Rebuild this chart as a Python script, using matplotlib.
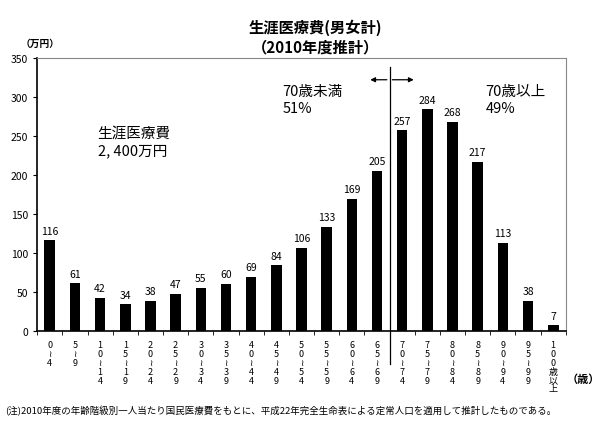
"""Lifetime medical cost by age group (2010 estimate)."""

import matplotlib
matplotlib.use("Agg")
import matplotlib.pyplot as plt
import numpy as np

plt.rcParams["font.family"] = ["Noto Sans CJK JP", "DejaVu Sans"]

ages = ["0-4", "5-9", "10-14", "15-19", "20-24", "25-29", "30-34", "35-39",
        "40-44", "45-49", "50-54", "55-59", "60-64", "65-69", "70-74",
        "75-79", "80-84", "85-89", "90-94", "95-99", "100+"]
costs = [116, 61, 42, 34, 38, 47, 55, 60, 69, 84, 106, 133, 169, 205,
         257, 284, 268, 217, 113, 38, 7]
yticks = [0, 50, 100, 150, 200, 250, 300, 350]


def vertical_label(age):
    """Stack the characters of an age range vertically."""
    if age.endswith("+"):
        return "\n".join(age[:-1]) + "\n歳\n以\n上"
    lo, hi = age.split("-")
    return "\n".join(list(lo) + ["≀"] + list(hi))


fig = plt.figure(figsize=(6.0, 4.27), dpi=100)
ax = fig.add_axes([0.062, 0.223, 0.881, 0.639])

x = np.arange(len(costs))
ax.bar(x, costs, width=0.42, color="black")
for xi, v in zip(x, costs):
    ax.text(xi, v + 6, str(v), ha="center", va="bottom", fontsize=7.5)

ax.set_xlim(-0.5, len(costs) - 0.5)
ax.set_ylim(0, 350)
ax.set_yticks(yticks)
ax.tick_params(axis="y", labelsize=7.5, length=3, direction="out")
ax.set_xticks([])
ax.set_xticks(np.arange(-0.5, len(costs)), minor=True)
ax.tick_params(axis="x", which="minor", length=3, direction="out")
for spine in ("top", "right"):
    ax.spines[spine].set_color("#888888")
for spine in ("left", "bottom"):
    ax.spines[spine].set_color("black")
    ax.spines[spine].set_linewidth(1.2)

for xi, age in zip(x, ages):
    ax.text(xi, -12, vertical_label(age), ha="center", va="top",
            fontsize=6.5, linespacing=0.98)

# 70-year divider and arrow
ax.plot([13.5, 13.5], [338, -43], color="black", lw=0.9, clip_on=False)
for end in (12.62, 14.57):
    ax.annotate("", xy=(end, 322), xytext=(13.5, 322),
                arrowprops=dict(arrowstyle="-|>", color="black", lw=0.9,
                                mutation_scale=7))

ax.text(9.25, 297, "70歳未満\n51%", fontsize=10.5, va="center", ha="left",
        linespacing=1.25)
ax.text(17.3, 297, "70歳以上\n49%", fontsize=10.5, va="center", ha="left",
        linespacing=1.25)
ax.text(1.9, 242, "生涯医療費\n2, 400万円", fontsize=10.5, va="center",
        ha="left", linespacing=1.25)

fig.text(0.525, 0.912, "生涯医療費(男女計)\n（2010年度推計）", ha="center",
         va="center", fontsize=11, fontweight="bold", linespacing=1.3)
fig.text(0.035, 0.897, "（万円）", fontsize=7, fontweight="bold", va="center")
fig.text(0.945, 0.112, "（歳）", fontsize=8, fontweight="bold", va="center")
fig.text(0.008, 0.038, "(注)2010年度の年齢階級別一人当たり国民医療費をもとに、"
         "平成22年完全生命表による定常人口を適用して推計したものである。",
         fontsize=6.8, va="center")

fig.savefig("out.png", dpi=100)
